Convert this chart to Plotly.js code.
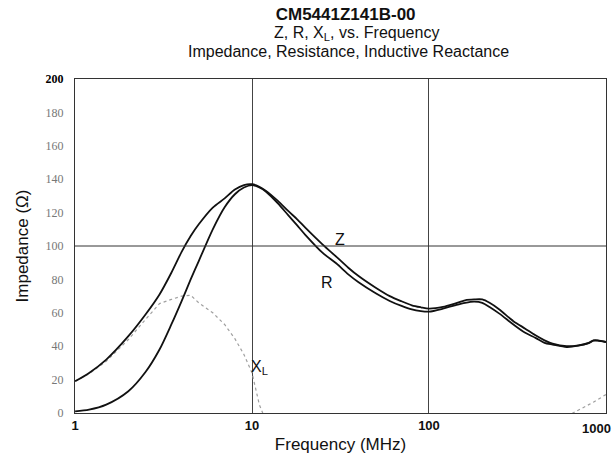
<!DOCTYPE html>
<html>
<head>
<meta charset="utf-8">
<script src="https://cdn.plot.ly/plotly-3.0.1.min.js"></script>
<style>html,body{margin:0;padding:0;background:#fff;}#chart{width:615px;height:465px;}</style>
</head>
<body>
<div id="chart"></div>
<script>
// Frequency (MHz)
const freq = [1, 1.2, 1.5, 2, 2.5, 3, 3.5, 4, 4.5, 5, 6, 7, 8, 9, 10, 11, 12, 14, 16, 18, 20, 25, 30, 35, 40, 50, 60, 70, 80, 90, 100, 120, 140, 160, 180, 200, 220, 250, 300, 350, 400, 450, 500, 600, 700, 800, 850, 900, 1000];
// Impedance Z (ohm)
const zVals = [19, 24, 32, 46, 59, 71, 84, 96.5, 106, 113, 123, 128.5, 133.8, 136.5, 137, 135.5, 133, 127, 121, 116, 111, 101, 93.5, 87, 82, 75, 70, 66.9, 64.5, 63.3, 62.5, 63.5, 65.5, 67.5, 68, 68, 66, 62, 55, 50.5, 46.5, 43.5, 41.5, 40, 40.5, 42, 43.5, 43.5, 42.5];
// Resistance R (ohm)
const rVals = [1, 2, 5, 13, 24.5, 38, 53, 67, 80, 91, 110, 123.2, 131, 135, 136.5, 135, 132.5, 125.5, 118.5, 112.3, 106.7, 96, 89.5, 83, 78.3, 71.7, 67.1, 64.1, 62, 61, 60.7, 62.5, 64.5, 66, 66.7, 66, 63.5, 59.5, 53, 48, 45, 42, 41, 39.5, 40.3, 41.8, 43.3, 43.3, 42.5];
// Inductive reactance XL (ohm); null where it lies off the chart
const xlVals = [19, 23.5, 31, 44, 56, 65.5, 68, 70, 70.5, 66, 60, 53, 44.5, 35, 24, 5, -5, null, null, null, null, null, null, null, null, null, null, null, null, null, null, null, null, null, null, null, null, null, null, null, null, null, null, -2, 2, 5, 6.5, 8, 11];
const yTicks = [0, 20, 40, 60, 80, 100, 120, 140, 160, 180, 200];
const yTickText = ['0', '20', '40', '60', '80', '100', '120', '140', '160', '180', '<b><span style="color:#000">200</span></b>'];
const xTicks = [1, 10, 100, 1000];
const xTickText = ['<b>1</b>', '<b>10</b>', '<b>100</b>', '<b>1000</b>'];

const sans = 'Liberation Sans, Arial, sans-serif';

const traces = [
  {x: freq, y: xlVals, type: 'scatter', mode: 'lines', name: 'XL',
   line: {color: '#a0a0a0', width: 1.2, dash: 'dot'}, connectgaps: false, hoverinfo: 'skip'},
  {x: freq, y: zVals, type: 'scatter', mode: 'lines', name: 'Z',
   line: {color: '#111', width: 1.8, shape: 'spline', smoothing: 0.8}},
  {x: freq, y: rVals, type: 'scatter', mode: 'lines', name: 'R',
   line: {color: '#111', width: 1.8, shape: 'spline', smoothing: 0.8}}
];

// last tick label is drawn right-aligned at the axis end (as in the reference) so it stays inside the page
const shownTickText = xTickText.slice(0, 3).concat(['']);

const layout = {
  width: 615, height: 465,
  margin: {l: 75, r: 9, t: 79, b: 52},
  paper_bgcolor: '#fff', plot_bgcolor: '#fff',
  showlegend: false,
  font: {family: sans, color: '#111'},
  title: {text: '<b>CM5441Z141B-00</b>', font: {family: sans, size: 17, color: '#111'},
          x: 0.562, xanchor: 'center', y: 0.969, yanchor: 'middle'},
  xaxis: {
    type: 'log', range: [-0.0005, 3.0005],
    tickvals: xTicks, ticktext: shownTickText,
    tickfont: {family: sans, size: 13, color: '#111'},
    showgrid: true, gridcolor: '#444', gridwidth: 1,
    showline: true, linecolor: '#333', linewidth: 1, mirror: true,
    ticks: '', zeroline: false,
    title: {text: 'Frequency (MHz)', font: {family: sans, size: 17, color: '#111'}, standoff: 6}
  },
  yaxis: {
    range: [0, 200],
    tickvals: yTicks, ticktext: yTickText,
    tickfont: {family: 'Liberation Serif, serif', size: 12, color: '#777'},
    showgrid: false, showline: true, linecolor: '#333', linewidth: 1, mirror: true,
    ticks: '', zeroline: false, ticklabelstandoff: 8,
    title: {text: 'Impedance (Ω)', font: {family: sans, size: 17, color: '#111'}, standoff: 12}
  },
  shapes: [
    {type: 'line', xref: 'paper', x0: 0, x1: 1, yref: 'y', y0: 100, y1: 100,
     line: {color: '#333', width: 1}}
  ],
  annotations: [
    {text: 'Z, R, X<sub>L</sub>, vs. Frequency', xref: 'paper', yref: 'paper', x: 0.53, y: 1.137,
     xanchor: 'center', yanchor: 'middle', showarrow: false, font: {family: sans, size: 16, color: '#111'}},
    {text: 'Impedance, Resistance, Inductive Reactance', xref: 'paper', yref: 'paper', x: 0.516, y: 1.082,
     xanchor: 'center', yanchor: 'middle', showarrow: false, font: {family: sans, size: 16, color: '#111'}},
    {text: xTickText[3], x: Math.log10(xTicks[3]), xref: 'x', y: 0, yref: 'paper',
     xanchor: 'right', yanchor: 'top', xshift: 7, yshift: -6, showarrow: false,
     font: {family: sans, size: 13, color: '#111'}},
    {text: 'Z', x: Math.log10(31.4), y: 103.6, xref: 'x', yref: 'y', showarrow: false,
     font: {family: sans, size: 16, color: '#111'}},
    {text: 'R', x: Math.log10(26.4), y: 78, xref: 'x', yref: 'y', showarrow: false,
     font: {family: sans, size: 16, color: '#111'}},
    {text: 'X<sub>L</sub>', x: Math.log10(11.0), y: 27, xref: 'x', yref: 'y', showarrow: false,
     font: {family: sans, size: 16, color: '#111'}}
  ]
};

Plotly.newPlot('chart', traces, layout, {displayModeBar: false, staticPlot: true});
</script>
</body>
</html>
